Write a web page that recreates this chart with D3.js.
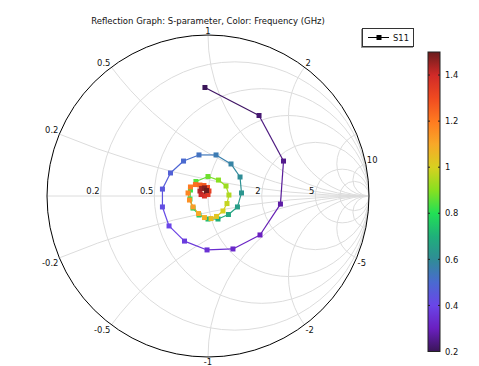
<!DOCTYPE html>
<html><head><meta charset="utf-8">
<script src="https://cdn.jsdelivr.net/npm/d3@7/dist/d3.min.js"></script>
<style>body{margin:0;background:#fff}svg{display:block}text{font-family:"DejaVu Sans",sans-serif}</style>
</head><body>
<svg id="c" width="479" height="366"></svg>
<script>
// ---- data ----
const freq = d3.range(53).map(i => +(0.2 + 0.025 * i).toFixed(3)); // GHz sweep 0.2..1.5
const s11Re = [-0.019,0.317,0.469,0.450,0.323,0.155,-0.006,-0.146,-0.242,-0.283,-0.283,-0.233,-0.152,-0.056,0.050,0.143,0.199,0.208,0.183,0.127,0.062,0.000,-0.056,-0.093,-0.112,-0.109,-0.075,0.000,0.065,0.112,0.130,0.118,0.093,0.053,0.019,-0.022,-0.059,-0.093,-0.115,-0.124,-0.109,-0.078,-0.050,-0.025,-0.003,0.006,0.000,-0.022,-0.043,-0.050,-0.040,-0.022,-0.009];
const s11Im = [0.674,0.500,0.217,-0.050,-0.242,-0.329,-0.335,-0.280,-0.186,-0.068,0.043,0.143,0.217,0.255,0.255,0.199,0.118,0.019,-0.068,-0.115,-0.143,-0.143,-0.118,-0.075,-0.019,0.037,0.090,0.121,0.099,0.062,0.006,-0.047,-0.093,-0.127,-0.140,-0.134,-0.109,-0.068,-0.025,0.019,0.056,0.071,0.068,0.065,0.053,0.031,0.009,0.000,0.009,0.031,0.047,0.050,0.034];
const rGrid = [0.2, 0.5, 1, 2, 5, 10];
const xGrid = [0.2, 0.5, 1, 2, 5, 10];
const rLabels = ["0.2", "0.5", "1", "2", "5"];
const xLabelsPos = ["0.2", "0.5", "1", "2", "10"];
const xLabelsNeg = ["-0.2", "-0.5", "-1", "-2", "-5"];
const cbTicks = [0.2, 0.4, 0.6, 0.8, 1, 1.2, 1.4];
const cmapVals = [0.2,0.3,0.4,0.5,0.6,0.7,0.8,0.9,1.0,1.1,1.2,1.3,1.4,1.5];
const cmapCols = ["#3a1558","#6a1fc0","#6a45e8","#4a6ad0","#2f8c96","#1fb07a","#22e055","#88e020","#d8d020","#f8a828","#ff7a20","#f04a20","#d02a28","#6a1c1c"];

// ---- layout ----
const svg = d3.select("#c");
const cx = 208, cy = 196, R = 161;
const sx = d3.scaleLinear().domain([-1, 1]).range([cx - R, cx + R]);
const sy = d3.scaleLinear().domain([-1, 1]).range([cy + R, cy - R]);
const color = d3.scaleLinear().domain(cmapVals).range(cmapCols);
const grey = "#dcdcdc";

svg.append("text").attr("x", cx).attr("y", 23.5).attr("text-anchor", "middle")
  .attr("font-size", 8.5).attr("fill", "#111").text("Reflection Graph: S-parameter, Color: Frequency (GHz)");

svg.append("clipPath").attr("id", "uc").append("circle").attr("cx", cx).attr("cy", cy).attr("r", R);
const grid = svg.append("g").attr("clip-path", "url(#uc)").attr("fill", "none").attr("stroke", grey).attr("stroke-width", 1);
grid.append("line").attr("x1", sx(-1)).attr("x2", sx(1)).attr("y1", sy(0)).attr("y2", sy(0));
rGrid.forEach(r => {
  grid.append("circle").attr("cx", sx(r / (1 + r))).attr("cy", sy(0)).attr("r", sx(1 / (1 + r)) - sx(0));
});
xGrid.forEach(x => {
  [1, -1].forEach(s => {
    grid.append("circle").attr("cx", sx(1)).attr("cy", sy(s / x)).attr("r", sx(1 / x) - sx(0));
  });
});
svg.append("circle").attr("cx", cx).attr("cy", cy).attr("r", R).attr("fill", "none").attr("stroke", "#000").attr("stroke-width", 1);

// labels
const lab = svg.append("g").attr("font-size", 8.4).attr("fill", "#111");
rLabels.forEach(t => {
  const r = +t;
  lab.append("text").attr("x", sx((r - 1) / (r + 1)) - 1).attr("y", sy(0) - 2)
    .attr("text-anchor", "end").text(t);
});
function xPt(x) { return [(x * x - 1) / (x * x + 1), 2 * x / (x * x + 1)]; }
xLabelsPos.forEach(t => {
  const p = xPt(+t); const px = sx(p[0]), py = sy(p[1]);
  const anchor = Math.abs(p[0]) < 0.01 ? "middle" : (p[0] < 0 ? "end" : "start");
  lab.append("text").attr("x", px + (anchor === "end" ? -1 : anchor === "start" ? 1 : 0)).attr("y", py - 1)
    .attr("text-anchor", anchor).text(t);
});
xLabelsNeg.forEach(t => {
  const p = xPt(+t); const px = sx(p[0]), py = sy(p[1]);
  const anchor = Math.abs(p[0]) < 0.01 ? "middle" : (p[0] < 0 ? "end" : "start");
  lab.append("text").attr("x", px + (anchor === "end" ? -1 : anchor === "start" ? 1 : 0)).attr("y", py + 8)
    .attr("text-anchor", anchor).text(t);
});

// data
const pts = freq.map((f, i) => ({ f, re: s11Re[i], im: s11Im[i] }));
const dg = svg.append("g");
for (let i = 0; i < pts.length - 1; i++) {
  dg.append("line").attr("x1", sx(pts[i].re)).attr("y1", sy(pts[i].im))
    .attr("x2", sx(pts[i + 1].re)).attr("y2", sy(pts[i + 1].im))
    .attr("stroke", color((pts[i].f + pts[i + 1].f) / 2)).attr("stroke-width", 1.2);
}
dg.selectAll("rect.m").data(pts).enter().append("rect").attr("class", "m")
  .attr("x", d => sx(d.re) - 2.5).attr("y", d => sy(d.im) - 2.5).attr("width", 5).attr("height", 5)
  .attr("fill", d => color(d.f));

// legend
const lg = svg.append("g");
lg.append("rect").attr("x", 361).attr("y", 29).attr("width", 52).attr("height", 19).attr("fill", "#999");
lg.append("rect").attr("x", 362.5).attr("y", 28.5).attr("width", 51).attr("height", 18).attr("fill", "#fff").attr("stroke", "#333");
lg.append("line").attr("x1", 368).attr("x2", 389).attr("y1", 37.5).attr("y2", 37.5).attr("stroke", "#000").attr("stroke-width", 1);
lg.append("rect").attr("x", 376.5).attr("y", 35).attr("width", 5).attr("height", 5).attr("fill", "#000");
lg.append("text").attr("x", 393).attr("y", 40.5).attr("font-size", 8.4).attr("fill", "#111").text("S11");

// colorbar
const cbX = 428, cbW = 12;
const cs = d3.scaleLinear().domain([0.2, 1.5]).range([351.5, 52]);
const defs = svg.append("defs");
const grad = defs.append("linearGradient").attr("id", "cg").attr("x1", 0).attr("y1", 1).attr("x2", 0).attr("y2", 0);
cmapVals.forEach((v, i) => grad.append("stop").attr("offset", (v - 0.2) / 1.3).attr("stop-color", cmapCols[i]));
svg.append("rect").attr("x", cbX).attr("y", cs(1.5)).attr("width", cbW).attr("height", cs(0.2) - cs(1.5))
  .attr("fill", "url(#cg)").attr("stroke", "#222").attr("stroke-width", 1);
const cbAxis = d3.axisRight(cs).tickValues(cbTicks).tickSize(0).tickPadding(5).tickFormat(d3.format("~g"));
const ag = svg.append("g").attr("transform", `translate(${cbX + cbW},0)`).call(cbAxis);
ag.select(".domain").remove();
ag.selectAll("text").attr("font-size", 8.4).attr("fill", "#111").attr("font-family", "DejaVu Sans");
cbTicks.forEach(v => {
  svg.append("line").attr("x1", cbX).attr("x2", cbX + 2).attr("y1", cs(v)).attr("y2", cs(v)).attr("stroke", "#222");
  svg.append("line").attr("x1", cbX + cbW - 2).attr("x2", cbX + cbW).attr("y1", cs(v)).attr("y2", cs(v)).attr("stroke", "#222");
});
</script>
</body></html>
